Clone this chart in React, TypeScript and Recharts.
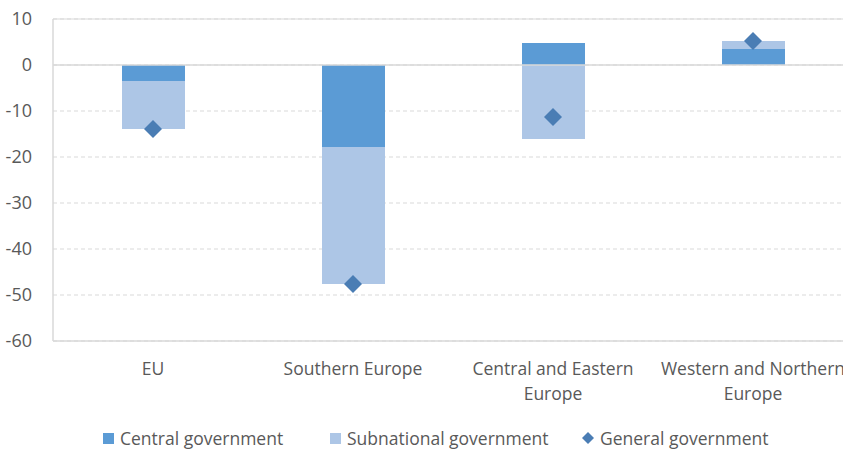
import {
  ComposedChart,
  Bar,
  Line,
  XAxis,
  YAxis,
  CartesianGrid,
  ReferenceLine,
  Text,
} from "recharts";

const categories = [
  "EU",
  "Southern Europe",
  "Central and Eastern Europe",
  "Western and Northern Europe",
];
const central = [-3.5, -17.8, 4.8, 3.5];
const subnational = [-10.4, -29.8, -16.1, 1.7];
const general = [-13.9, -47.6, -11.3, 5.2];
const yTicks = [10, 0, -10, -20, -30, -40, -50, -60];

const data = categories.map((name, i) => ({
  name,
  central: central[i],
  subnational: subnational[i],
  general: general[i],
}));

const FONT = "'Open Sans', sans-serif";
const TEXT = "#595959";
const DARK = "#5B9BD5";
const LIGHT = "#ADC6E6";
const DIAMOND = "#4A7DB4";

function Diamond({ cx, cy }: any) {
  if (cx == null || cy == null) return null;
  const r = 9;
  return (
    <path
      d={`M${cx},${cy - r}L${cx + r},${cy}L${cx},${cy + r}L${cx - r},${cy}Z`}
      fill={DIAMOND}
    />
  );
}

function CategoryTick({ x, y, payload }: any) {
  return (
    <Text
      x={x}
      y={y + 14}
      width={200}
      textAnchor="middle"
      verticalAnchor="start"
      lineHeight={25}
      fill={TEXT}
      style={{ fontSize: 17.5, fontFamily: FONT }}
    >
      {payload.value}
    </Text>
  );
}

function Legend() {
  const item = (left: number, marker: any, label: string) => (
    <div
      style={{
        position: "absolute",
        left,
        top: 0,
        display: "flex",
        alignItems: "center",
      }}
    >
      {marker}
      <span style={{ marginLeft: 6 }}>{label}</span>
    </div>
  );
  return (
    <div
      style={{
        position: "absolute",
        top: 426,
        left: 0,
        width: 843,
        height: 24,
        fontFamily: FONT,
        fontSize: 17.5,
        lineHeight: "24px",
        color: TEXT,
        whiteSpace: "nowrap",
      }}
    >
      {item(103, <div style={{ width: 11, height: 11, background: DARK }} />, "Central government")}
      {item(330, <div style={{ width: 11, height: 11, background: LIGHT }} />, "Subnational government")}
      {item(
        582,
        <svg width={12} height={12}>
          <path d="M6,0L12,6L6,12L0,6Z" fill={DIAMOND} />
        </svg>,
        "General government"
      )}
    </div>
  );
}

export default function App() {
  return (
    <div
      style={{
        position: "absolute",
        left: 0,
        top: 0,
        width: 843,
        height: 450,
        overflow: "hidden",
        background: "#fff",
      }}
    >
      <ComposedChart
        width={860}
        height={450}
        data={data}
        stackOffset="sign"
        margin={{ top: 19, right: 7, left: 0, bottom: 79 }}
      >
        <CartesianGrid
          vertical={false}
          stroke="#D9D9D9"
          strokeDasharray="4 3"
        />
        <ReferenceLine y={10} stroke="#D9D9D9" />
        <ReferenceLine y={0} stroke="#D9D9D9" strokeWidth={1.5} />
        <XAxis
          dataKey="name"
          interval={0}
          height={30}
          tickLine={false}
          axisLine={{ stroke: "#D9D9D9", strokeWidth: 1.5 }}
          tick={<CategoryTick />}
        />
        <YAxis
          width={53}
          domain={[-60, 10]}
          ticks={yTicks}
          tickLine={false}
          tickMargin={15}
          axisLine={{ stroke: "#D9D9D9", strokeWidth: 1.5 }}
          tick={{ fill: TEXT, fontSize: 18, fontFamily: FONT }}
        />
        <Bar
          dataKey="central"
          stackId="a"
          fill={DARK}
          barSize={63}
          isAnimationActive={false}
        />
        <Bar
          dataKey="subnational"
          stackId="a"
          fill={LIGHT}
          barSize={63}
          isAnimationActive={false}
        />
        <Line
          dataKey="general"
          stroke="none"
          dot={<Diamond />}
          activeDot={false}
          isAnimationActive={false}
        />
      </ComposedChart>
      <Legend />
    </div>
  );
}
